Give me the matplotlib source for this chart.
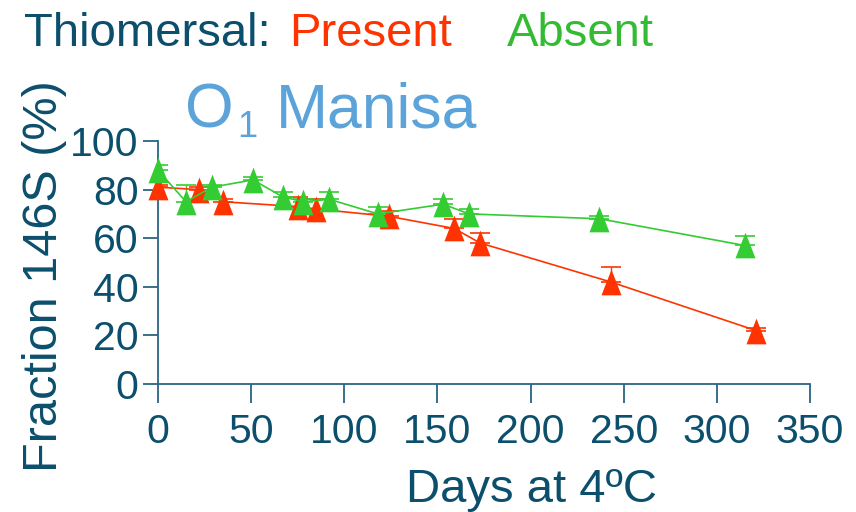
import matplotlib
matplotlib.use("Agg")
import matplotlib.pyplot as plt
from matplotlib import font_manager

names = {f.name for f in font_manager.fontManager.ttflist}
FONT = "Liberation Sans Narrow" if "Liberation Sans Narrow" in names else "Liberation Sans"
plt.rcParams['font.family'] = [FONT, 'DejaVu Sans']

present_days = [0, 22, 35, 75, 85, 124, 159, 173, 243, 321]
present_vals = [81, 80, 75, 73, 72, 69, 64, 58, 42, 22]
present_err = [1, 1, 1, 4, 4, 2, 4, 4, 6, 1]

absent_days = [0, 15, 29, 51, 67, 78, 92, 118, 153, 167, 237, 315]
absent_vals = [88, 75, 81, 84, 77, 75, 76, 70, 74, 70, 68, 57]
absent_err = [2, 7, 1, 1, 2, 1, 3, 3, 2, 2, 1, 4]

x_ticks = [0, 50, 100, 150, 200, 250, 300, 350]
y_ticks = [0, 20, 40, 60, 80, 100]

TEXT = "#0B4F6C"
RED = "#FF3300"
GREEN = "#33CC33"
TITLE = "#5BA3D9"

W, H = 856, 512
fig = plt.figure(figsize=(W/100, H/100), dpi=100)
ax = fig.add_axes([158/W, 1-384/H, (810-158)/W, (384-141)/H])

tri = [(0, 1), (-0.78, -1), (0.78, -1), (0, 1)]
for days, vals, err, col in [(present_days, present_vals, present_err, RED),
                             (absent_days, absent_vals, absent_err, GREEN)]:
    ax.errorbar(days, vals, yerr=[[0]*len(err), err], fmt='none', ecolor=col,
                elinewidth=1, capsize=7, capthick=1.2, zorder=2)
    ax.plot(days, vals, color=col, lw=1.2, marker=tri, ms=18.5,
            markeredgewidth=0, markerfacecolor=col, zorder=3, clip_on=False)

ax.set_xlim(0, 350)
ax.set_ylim(0, 100)
ax.set_xticks(x_ticks)
ax.set_yticks(y_ticks)
for s in ['top', 'right']:
    ax.spines[s].set_visible(False)
for s in ['left', 'bottom']:
    ax.spines[s].set_color("#2A6585")
    ax.spines[s].set_linewidth(1.3)
ax.tick_params(axis='both', colors="#2A6585", labelcolor=TEXT, labelsize=29.5,
               width=1.3, direction='out')
ax.tick_params(axis='x', length=14, pad=7)
ax.tick_params(axis='y', length=11, pad=3)

fig.text(531/W, 1-502/H, "Days at 4ºC", fontsize=34, color=TEXT,
         ha='center', va='baseline')
fig.text(45/W, 1-276/H, "Fraction 146S (%)", rotation=90, fontsize=35,
         color=TEXT, ha='center', va='center')

fig.text(24/W, 1-46/H, "Thiomersal: ", fontsize=34, color=TEXT, ha='left', va='baseline')
fig.text(289/W, 1-46/H, "Present", fontsize=34, color=RED, ha='left', va='baseline')
fig.text(507/W, 1-46/H, "Absent", fontsize=34, color="#33BB33", ha='left', va='baseline')
fig.text(185/W, 1-127/H, "O", fontsize=45, color=TITLE, ha='left', va='baseline')
fig.text(237/W, 1-137/H, "1", fontsize=26, color=TITLE, ha='left', va='baseline')
fig.text(276/W, 1-127/H, "Manisa", fontsize=45, color=TITLE, ha='left', va='baseline')

fig.savefig("out.png", dpi=100)
